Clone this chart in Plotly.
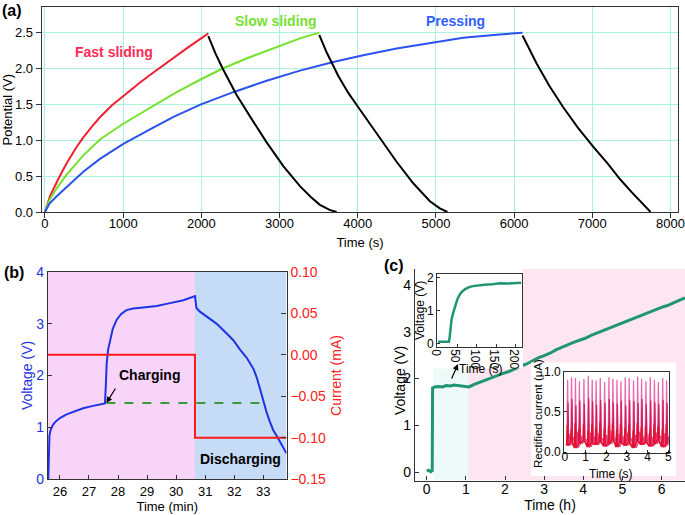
import plotly.graph_objects as go

W, H = 685, 515
FONT = "Liberation Sans, Arial, sans-serif"

# ---------- panel (a) data ----------
fast_t = [0, 25, 64, 170, 277, 400, 490, 600, 703, 850, 1002, 1200, 1343, 1556, 1812, 2089]
fast_v = [0, 0.10, 0.22, 0.46, 0.68, 0.90, 1.04, 1.19, 1.32, 1.48, 1.62, 1.79, 1.91, 2.08, 2.28, 2.49]
slow_t = [0, 25, 60, 150, 277, 490, 703, 1002, 1343, 1650, 1995, 2272, 2600, 3000, 3261, 3508]
slow_v = [0, 0.08, 0.17, 0.33, 0.52, 0.79, 1.01, 1.23, 1.45, 1.65, 1.85, 2.00, 2.15, 2.32, 2.42, 2.50]
press_t = [0, 25, 60, 150, 277, 490, 703, 1002, 1343, 1650, 1995, 2408, 2835, 3261, 3687, 4070, 4497,
           4923, 5349, 5776, 6108]
press_v = [0, 0.06, 0.12, 0.22, 0.35, 0.56, 0.74, 0.95, 1.15, 1.33, 1.50, 1.67, 1.83, 1.97, 2.09,
           2.185, 2.28, 2.36, 2.43, 2.47, 2.50]
dis1_t = [2089, 2180, 2272, 2451, 2664, 2835, 3048, 3261, 3400, 3516, 3640, 3730]
dis1_v = [2.45, 2.21, 2.00, 1.63, 1.26, 0.97, 0.64, 0.36, 0.21, 0.10, 0.03, 0]
dis2_t = [3508, 3600, 3750, 3879, 4007, 4284, 4497, 4710, 4923, 5050, 5147]
dis2_v = [2.47, 2.23, 1.90, 1.66, 1.46, 1.02, 0.70, 0.40, 0.15, 0.05, 0]
dis3_t = [6108, 6200, 6288, 6450, 6628, 6820, 7011, 7200, 7353, 7500, 7609, 7745]
dis3_v = [2.46, 2.25, 2.07, 1.76, 1.46, 1.17, 0.91, 0.67, 0.46, 0.28, 0.15, 0]

# ---------- panel (b) data ----------
b_time = [25.60, 25.62, 25.64, 25.68, 25.75, 25.85, 26.0, 26.23, 26.50, 26.80, 27.10, 27.38, 27.55,
          27.58, 27.61, 27.66, 27.72, 27.82, 27.95, 28.10, 28.29, 28.52, 28.87, 29.33, 29.67,
          30.25, 30.65, 30.67, 30.70, 30.82, 31.05, 31.39, 31.74, 31.97, 32.20, 32.43, 32.66, 32.77,
          32.90, 33.00, 33.11, 33.22, 33.34, 33.46, 33.60, 33.80]
b_volt = [0, 0.60, 0.84, 0.95, 1.04, 1.11, 1.18, 1.25, 1.31, 1.37, 1.41, 1.44, 1.46,
          1.80, 2.23, 2.50, 2.68, 2.90, 3.07, 3.18, 3.26, 3.29, 3.31, 3.34, 3.38,
          3.45, 3.53, 3.35, 3.30, 3.23, 3.13, 3.00, 2.81, 2.68, 2.50, 2.34, 2.13, 1.97,
          1.72, 1.50, 1.30, 1.12, 0.95, 0.84, 0.70, 0.50]
cur_time = [25.59, 30.65, 30.65, 33.80]
cur_val = [0.0, 0.0, -0.10, -0.10]
dash_time = [27.6, 32.95]
dash_volt = [1.47, 1.47]

# ---------- panel (c) data ----------
c_time = [0, 0.05, 0.10, 0.14, 0.15, 0.20, 0.30, 0.40, 0.50, 0.60, 0.70, 0.80, 0.90, 1.00, 1.08,
          1.20, 1.35, 1.50, 1.65, 1.80, 1.95, 2.10, 2.25, 2.40, 2.55, 2.70, 2.85, 3.00, 3.15,
          3.30, 3.45, 3.60, 3.75, 3.90, 4.05, 4.20, 4.35, 4.50, 4.65, 4.80, 4.95, 5.10, 5.25,
          5.40, 5.55, 5.70, 5.85, 6.00, 6.15, 6.30, 6.45, 6.60]
c_volt = [0.02, 0.04, 0.01, 0.03, 1.80, 1.82, 1.83, 1.82, 1.85, 1.84, 1.86, 1.85, 1.84, 1.83, 1.82,
          1.87, 1.92, 1.97, 2.01, 2.06, 2.11, 2.15, 2.21, 2.26, 2.31, 2.38, 2.44, 2.49, 2.54,
          2.61, 2.67, 2.72, 2.77, 2.81, 2.86, 2.92, 2.97, 3.03, 3.07, 3.12, 3.17, 3.22, 3.27,
          3.33, 3.38, 3.43, 3.47, 3.52, 3.56, 3.62, 3.67, 3.72]
in1_time = [0, 10, 20, 28, 30, 32, 35, 40, 45, 50, 55, 60, 70, 80, 90, 100, 120, 140, 160, 180, 200, 215]
in1_volt = [0.05, 0.05, 0.06, 0.05, 0.20, 0.50, 0.75, 0.97, 1.18, 1.35, 1.47, 1.56, 1.66, 1.72,
            1.75, 1.77, 1.79, 1.81, 1.84, 1.83, 1.84, 1.85]
pulse_t = [0.13, 0.32, 0.51, 0.70, 0.92, 1.13, 1.32, 1.51, 1.71, 1.92, 2.13, 2.32, 2.52, 2.71,
           2.92, 3.11, 3.32, 3.52, 3.71, 3.92, 4.13, 4.33, 4.52, 4.73, 4.92]
pulse_hi = [0.90, 0.93, 0.92, 0.88, 0.91, 0.95, 0.90, 0.89, 0.92, 0.87, 0.93, 0.91, 0.90, 0.88,
            0.93, 0.92, 0.89, 0.94, 0.91, 0.88, 0.93, 0.90, 0.87, 0.92, 0.89]
pulse_mid = [0.62, 0.66, 0.58, 0.64, 0.60, 0.67, 0.63, 0.59, 0.65, 0.61, 0.66, 0.62, 0.60, 0.64,
             0.58, 0.65, 0.63, 0.61, 0.66, 0.59, 0.64, 0.62, 0.60, 0.65, 0.61]
pulse_lo = [0.33, 0.28, 0.36, 0.30, 0.35, 0.27, 0.34, 0.31, 0.37, 0.29, 0.33, 0.36, 0.28, 0.35,
            0.30, 0.34, 0.27, 0.36, 0.31, 0.33, 0.29, 0.35, 0.32, 0.28, 0.34]
pulse_small = [0.22, 0.18, 0.25, 0.20, 0.16, 0.24, 0.19, 0.23, 0.17, 0.21, 0.26, 0.18, 0.22, 0.20,
               0.24, 0.17, 0.21, 0.25, 0.19, 0.22, 0.18, 0.24, 0.20, 0.23, 0.19]
pulse_base = [0.08, 0.12, 0.05, 0.10, 0.14, 0.06, 0.11, 0.09, 0.13, 0.07, 0.10, 0.15, 0.06, 0.12,
              0.08, 0.11, 0.05, 0.13, 0.09, 0.12, 0.07, 0.10, 0.14, 0.06, 0.09]


def px(x):
    return x / W


def py(y):
    return 1 - y / H


def pulse_xy(times, peaks, base, half, shift=0.0):
    xs, ys = [], []
    for t, p, b in zip(times, peaks, base):
        xs += [t + shift - half, t + shift, t + shift + half]
        ys += [b, p, b]
    return xs, ys


fig = go.Figure()

# (a)
for t, v, c in [(fast_t, fast_v, "#f02030"), (slow_t, slow_v, "#74e22c"), (press_t, press_v, "#2b52ee"),
                (dis1_t, dis1_v, "black"), (dis2_t, dis2_v, "black"), (dis3_t, dis3_v, "black")]:
    fig.add_trace(go.Scatter(x=t, y=v, mode="lines", line=dict(color=c, width=2),
                             xaxis="x", yaxis="y"))

# (b)
fig.add_trace(go.Scatter(x=b_time, y=b_volt, mode="lines", line=dict(color="#1f33e6", width=2),
                         xaxis="x2", yaxis="y2"))
fig.add_trace(go.Scatter(x=dash_time, y=dash_volt, mode="lines", line=dict(color="#3a9a3a", width=2, dash="dash"),
                         xaxis="x2", yaxis="y2"))
fig.add_trace(go.Scatter(x=cur_time, y=cur_val, mode="lines", line=dict(color="#ff1a1a", width=2),
                         xaxis="x2", yaxis="y3"))

# (c) main
fig.add_trace(go.Scatter(x=c_time, y=c_volt, mode="lines", line=dict(color="#1f9670", width=3),
                         xaxis="x3", yaxis="y4"))
# white box behind inset 1
fig.add_trace(go.Scatter(x=[], y=[], xaxis="x4", yaxis="y5"))
fig.add_trace(go.Scatter(x=in1_time, y=in1_volt, mode="lines", line=dict(color="#1f9670", width=2.5),
                         xaxis="x5", yaxis="y6"))
# white box behind inset 2
fig.add_trace(go.Scatter(x=[], y=[], xaxis="x6", yaxis="y7"))
for pk, c, w, sh in [(pulse_hi, "#ea66ad", 1.3, 0.0), (pulse_mid, "#d21c5c", 1.2, 0.02),
                     (pulse_small, "#e04080", 1.0, 0.10), (pulse_lo, "#e8102a", 1.2, -0.02)]:
    xs, ys = pulse_xy(pulse_t, pk, pulse_base, 0.035, sh)
    fig.add_trace(go.Scatter(x=xs, y=ys, mode="lines", line=dict(color=c, width=w),
                             xaxis="x7", yaxis="y8"))

tf = dict(family=FONT, size=13, color="black")
f12 = dict(family=FONT, size=12, color="black")
grid = "#a8f3dc"
blue_t = "#2233dd"
red_t = "#ff2020"

ax_common = dict(showline=True, linecolor="#333", linewidth=1.2, zeroline=False, tickfont=tf,
                 automargin=False, tickcolor="#333")

fig.update_layout(
    template="none",
    width=W, height=H, margin=dict(l=0, r=0, t=0, b=0, pad=0),
    paper_bgcolor="white", plot_bgcolor="white", showlegend=False,
    font=dict(family=FONT, color="black"),
    xaxis=dict(ax_common, domain=[px(41.7), px(678.3)], range=[-42, 8100], tickvals=list(range(0, 8001, 1000)),
               showgrid=True, gridcolor=grid, gridwidth=1.3, mirror=True, anchor="y", ticklabelstandoff=-6,
               title=dict(text="Time (s)", font=tf, standoff=8)),
    yaxis=dict(ax_common, domain=[py(212), py(7.3)], range=[0, 2.853], tickvals=[0, 0.5, 1, 1.5, 2, 2.5],
               tickformat=".1f", showgrid=True, gridcolor=grid, gridwidth=1.3, mirror=True, anchor="x",
               title=dict(text="Potential (V)", font=tf, standoff=4)),
    xaxis2=dict(ax_common, domain=[px(48), px(286.5)], range=[25.59, 33.8], tickvals=list(range(26, 34)),
                ticks="inside", ticklen=4, mirror=True, anchor="y2", showgrid=False,
                title=dict(text="Time (min)", font=tf, standoff=2)),
    yaxis2=dict(ax_common, domain=[py(479.3), py(271.7)], range=[0, 4], tickvals=[0, 1, 2, 3, 4],
                ticks="inside", ticklen=4, anchor="x2", showgrid=False,
                tickfont=dict(family=FONT, size=14, color=blue_t),
                title=dict(text="Voltage (V)", font=dict(family=FONT, size=14, color=blue_t), standoff=0)),
    yaxis3=dict(ax_common, overlaying="y2", side="right", anchor="x2", range=[-0.15, 0.10],
                tickvals=[-0.15, -0.10, -0.05, 0, 0.05, 0.10], tickformat=".2f", ticks="inside", ticklen=5,
                showgrid=False, tickfont=dict(family=FONT, size=14, color=red_t),
                title=dict(text="Current (mA)", font=dict(family=FONT, size=14, color=red_t), standoff=6)),
    xaxis3=dict(ax_common, domain=[px(415), px(685)], range=[-0.3, 6.6], tickvals=list(range(0, 7)),
                ticks="inside", ticklen=4, anchor="y4", showgrid=False, ticklabelstandoff=-4,
                tickfont=dict(family=FONT, size=14, color="black"),
                title=dict(text="Time (h)", font=dict(family=FONT, size=14), standoff=0)),
    yaxis4=dict(ax_common, domain=[py(480.5), py(269)], range=[-0.18, 4.34], tickvals=[0, 1, 2, 3, 4],
                ticks="inside", ticklen=4, anchor="x3", showgrid=False,
                tickfont=dict(family=FONT, size=14, color="black")),
    xaxis4=dict(domain=[px(416.5), px(523)], anchor="y5", visible=False, range=[0, 1]),
    yaxis5=dict(domain=[py(368.5), py(269)], anchor="x4", visible=False, range=[0, 1]),
    xaxis5=dict(ax_common, domain=[px(437.3), px(521.7)], range=[-2, 216], tickvals=[0, 50, 100, 150, 200],
                ticks="inside", ticklen=3, mirror=True, anchor="y6", showgrid=False,
                tickfont=f12, ticklabelstandoff=-7),
    yaxis6=dict(ax_common, domain=[py(346.7), py(274)], range=[-0.1, 2.12], tickvals=[0, 1, 2],
                ticks="inside", ticklen=3, mirror=True, anchor="x5", showgrid=False, tickfont=f12),
    xaxis6=dict(domain=[px(531), px(676)], anchor="y7", visible=False, range=[0, 1]),
    yaxis7=dict(domain=[py(476), py(362.5)], anchor="x6", visible=False, range=[0, 1]),
    xaxis7=dict(ax_common, domain=[px(564.3), px(669.3)], range=[-0.03, 5.05], tickvals=[0, 1, 2, 3, 4, 5],
                ticks="inside", ticklen=3, mirror=True, anchor="y8", showgrid=False,
                tickfont=f12, ticklabelstandoff=-7),
    yaxis8=dict(ax_common, domain=[py(452.7), py(371.7)], range=[-0.01, 1.0], tickvals=[0, 0.5, 1.0],
                tickformat=".1f", ticks="inside", ticklen=3, mirror=True, anchor="x7", showgrid=False,
                tickfont=f12),
)

# background bands
fig.add_shape(type="rect", xref="x2", yref="y2 domain", x0=25.59, x1=30.65, y0=0, y1=1,
              fillcolor="#f8d5f8", line_width=0, layer="below")
fig.add_shape(type="rect", xref="x2", yref="y2 domain", x0=30.65, x1=33.8, y0=0, y1=1,
              fillcolor="#c6dbf5", line_width=0, layer="below")
fig.add_shape(type="rect", xref="x3", yref="y4 domain", x0=0.17, x1=1.06, y0=0, y1=1,
              fillcolor="#eefaf8", line_width=0, layer="below")
fig.add_shape(type="rect", xref="x3", yref="y4 domain", x0=1.06, x1=6.6, y0=0, y1=1,
              fillcolor="#fde6f0", line_width=0, layer="below")

ann = [
    dict(text="<b>(a)</b>", x=px(0), y=py(11), xanchor="left"),
    dict(text="<b>(b)</b>", x=px(2), y=py(272), xanchor="left"),
    dict(text="<b>(c)</b>", x=px(382), y=py(265), xanchor="left"),
]
for a in ann:
    fig.add_annotation(xref="paper", yref="paper", showarrow=False, yanchor="middle",
                       font=dict(family=FONT, size=16, color="black"), **a)

# axis titles of panel (c) and its insets
titles = [
    ("Voltage (V)", 400, 380, -90, 14),
    ("Time (s)", 481, 369, 0, 12),
    ("Voltage (V)", 420, 311, -90, 12),
    ("Time (s)", 611, 474, 0, 12),
    ("Rectified current (μA)", 538, 414, -90, 11.5),
]
for text, x, y, ang, size in titles:
    fig.add_annotation(text=text, x=px(x), y=py(y), xref="paper", yref="paper", showarrow=False,
                       textangle=ang, xanchor="center", yanchor="middle",
                       font=dict(family=FONT, size=size, color="black"))

fig.add_annotation(text="<b>Fast sliding</b>", x=882, y=2.23, xref="x", yref="y", showarrow=False,
                   font=dict(family=FONT, size=14, color="#ff2a55"))
fig.add_annotation(text="<b>Slow sliding</b>", x=2954, y=2.66, xref="x", yref="y", showarrow=False,
                   font=dict(family=FONT, size=14, color="#77e030"))
fig.add_annotation(text="<b>Pressing</b>", x=5252, y=2.66, xref="x", yref="y", showarrow=False,
                   font=dict(family=FONT, size=14, color="#3060ff"))

fig.add_annotation(text="<b>Charging</b>", x=29.1, y=2.01, xref="x2", yref="y2", showarrow=False,
                   font=dict(family=FONT, size=14, color="black"))
fig.add_annotation(text="", x=27.6, y=1.47, xref="x2", yref="y2", ax=10, ay=-16,
                   showarrow=True, arrowhead=2, arrowsize=1, arrowwidth=1.2, arrowcolor="black")
fig.add_annotation(text="<b>Discharging</b>", x=32.2, y=0.385, xref="x2", yref="y2", showarrow=False,
                   font=dict(family=FONT, size=14, color="black"))
fig.add_annotation(text="", x=px(458), y=py(364), xref="paper", yref="paper", ax=-7, ay=16,
                   showarrow=True, arrowhead=2, arrowsize=1, arrowwidth=1.2, arrowcolor="black")

fig.write_html("out.html", config={"displayModeBar": False},
               post_script="document.body.style.margin='0';")
